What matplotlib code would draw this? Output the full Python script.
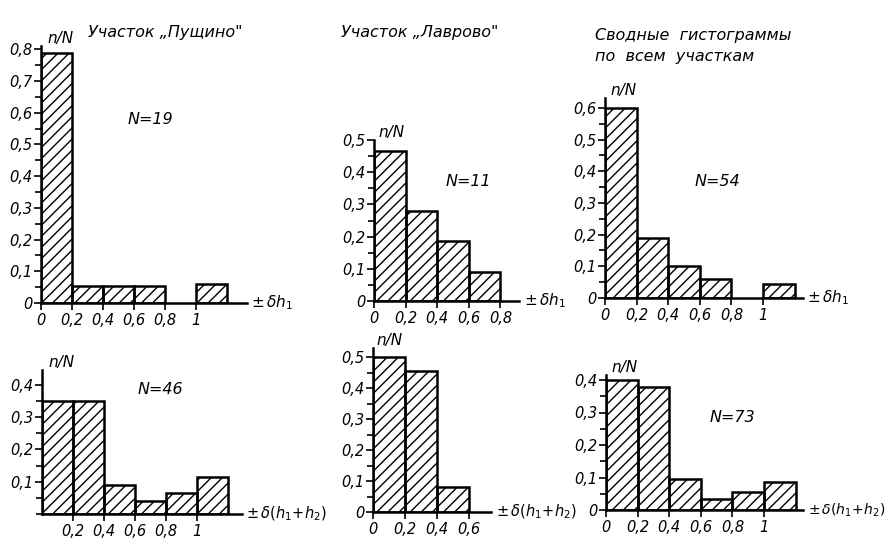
import matplotlib
matplotlib.use("Agg")
import matplotlib.pyplot as plt
from matplotlib.ticker import MultipleLocator, FixedLocator

plt.rcParams['font.family'] = ['DejaVu Sans']
plt.rcParams['hatch.linewidth'] = 1.0
plt.rcParams['mathtext.fontset'] = 'dejavusans'

# ---- data ----
bins6 = [0.0, 0.2, 0.4, 0.6, 0.8, 1.0]
bins4 = [0.0, 0.2, 0.4, 0.6]
bins3 = [0.0, 0.2, 0.4]

pushchino_h1 = [0.79, 0.053, 0.053, 0.053, 0.0, 0.06]
lavrovo_h1 = [0.465, 0.28, 0.185, 0.09]
all_h1 = [0.60, 0.19, 0.10, 0.06, 0.0, 0.045]

pushchino_h12 = [0.35, 0.35, 0.09, 0.04, 0.065, 0.115]
lavrovo_h12 = [0.50, 0.455, 0.08]
all_h12 = [0.40, 0.38, 0.095, 0.035, 0.055, 0.085]

xt6 = [0, 0.2, 0.4, 0.6, 0.8, 1.0]
xl6 = ["0", "0,2", "0,4", "0,6", "0,8", "1"]
xt4 = [0, 0.2, 0.4, 0.6, 0.8]
xl4 = ["0", "0,2", "0,4", "0,6", "0,8"]
xt3 = [0, 0.2, 0.4, 0.6]
xl3 = ["0", "0,2", "0,4", "0,6"]

titles = ["Участок „Пущино\"", "Участок „Лаврово\"", "Сводные  гистограммы\nпо  всем  участкам"]
n_labels = ["N=19", "N=11", "N=54", "N=46", None, "N=73"]
xlab1 = r"$\pm\,\delta h_1$"
xlab2 = r"$\pm\,\delta(h_1\!+\!h_2)$"

W, H = 887, 540
fig = plt.figure(figsize=(W / 100, H / 100), dpi=100)

TICK_FS = 10.5


def make_ax(x0, y0, sx, sy, xmax, ymax):
    # x0,y0: pixel position of data origin; sx,sy: pixels per unit
    rect = [x0 / W, (H - y0) / H, xmax * sx / W, ymax * sy / H]
    ax = fig.add_axes(rect)
    ax.set_xlim(0, xmax)
    ax.set_ylim(0, ymax)
    ax.patch.set_alpha(0)
    for s in ("top", "right"):
        ax.spines[s].set_visible(False)
    for s in ("left", "bottom"):
        ax.spines[s].set_linewidth(1.8)
    ax.tick_params(which='both', direction='out', width=1.2, labelsize=TICK_FS)
    ax.tick_params(axis='y', which='major', length=5, pad=1)
    ax.tick_params(axis='y', which='minor', length=4)
    ax.tick_params(axis='x', which='major', length=5, pad=2)
    return ax


def style_labels(ax):
    for lab in ax.get_xticklabels() + ax.get_yticklabels():
        lab.set_fontstyle('italic')


def draw(ax, bins, vals):
    for b, v in zip(bins, vals):
        if v > 0:
            ax.bar(b, v, width=0.2, align='edge', fill=False, hatch='///',
                   edgecolor='black', linewidth=1.8)


def yfmt(vals):
    return ["0" if v == 0 else ("%.1f" % v).replace(".", ",") for v in vals]


panels = [
    # x0, y0, sx, sy, xmax, ymax
    dict(p=(41, 303, 155, 317, 1.33, 0.81), bins=bins6, vals=pushchino_h1, xt=xt6, xl=xl6,
         yt=[0, .1, .2, .3, .4, .5, .6, .7, .8], xlab=xlab1, xfs=11),
    dict(p=(374, 301, 158, 322, 0.92, 0.50), bins=bins4, vals=lavrovo_h1, xt=xt4, xl=xl4,
         yt=[0, .1, .2, .3, .4, .5], xlab=xlab1, xfs=11),
    dict(p=(605, 298, 158, 317, 1.25, 0.63), bins=bins6, vals=all_h1, xt=xt6, xl=xl6,
         yt=[0, .1, .2, .3, .4, .5, .6], xlab=xlab1, xfs=11),
    dict(p=(42, 514, 155, 323, 1.29, 0.445), bins=bins6, vals=pushchino_h12, xt=xt6[1:], xl=xl6[1:],
         yt=[.1, .2, .3, .4], xlab=xlab2, xfs=10.5),
    dict(p=(373, 512, 160, 310, 0.74, 0.53), bins=bins3, vals=lavrovo_h12, xt=xt3, xl=xl3,
         yt=[0, .1, .2, .3, .4, .5], xlab=xlab2, xfs=10.5),
    dict(p=(606, 510, 158, 325, 1.25, 0.415), bins=bins6, vals=all_h12, xt=xt6, xl=xl6,
         yt=[0, .1, .2, .3, .4], xlab=xlab2, xfs=10),
]

for i, pn in enumerate(panels):
    ax = make_ax(*pn['p'])
    draw(ax, pn['bins'], pn['vals'])
    ax.xaxis.set_major_locator(FixedLocator(pn['xt']))
    ax.set_xticklabels(pn['xl'])
    ax.yaxis.set_major_locator(FixedLocator(pn['yt']))
    ax.set_yticklabels(yfmt(pn['yt']))
    ax.yaxis.set_minor_locator(MultipleLocator(0.05))
    style_labels(ax)
    # n/N label at top of y axis
    ax.text(0.03, 1.0, "n/N", transform=ax.transAxes, fontsize=11, style='italic',
            ha='left', va='bottom')
    # x-axis quantity label at end of axis
    ax.annotate(pn['xlab'], xy=(1.0, 0.0), xycoords='axes fraction',
                xytext=(3, 0), textcoords='offset points', fontsize=pn['xfs'],
                ha='left', va='center')

# N labels (pixel positions)
n_pos = [(150, 120), (468, 182), (717, 182), (160, 390), None, (732, 418)]
for lab, pos in zip(n_labels, n_pos):
    if lab:
        fig.text(pos[0] / W, 1 - pos[1] / H, lab, fontsize=11.5, style='italic',
                 ha='center', va='center')

# titles
fig.text(165 / W, 1 - 32 / H, titles[0], fontsize=11.5, style='italic', ha='center', va='center')
fig.text(420 / W, 1 - 32 / H, titles[1], fontsize=11.5, style='italic', ha='center', va='center')
fig.text(595 / W, 1 - 46 / H, titles[2], fontsize=11.5, style='italic', ha='left', va='center',
         linespacing=1.5)

fig.savefig("out.png", dpi=100, facecolor='white')
